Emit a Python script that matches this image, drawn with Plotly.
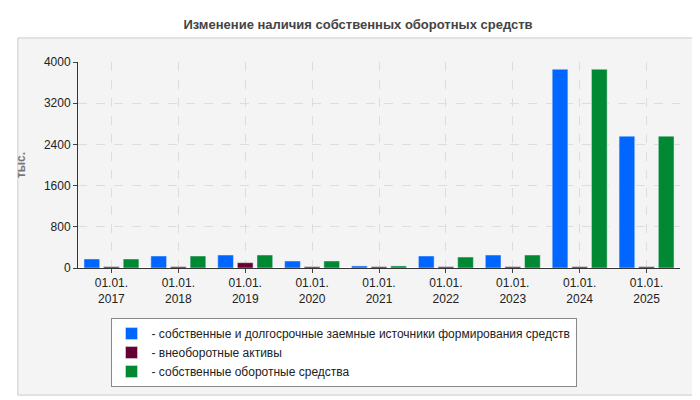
import plotly.graph_objects as go

# Years and values (тыс.)
categories = ["01.01.<br>2017", "01.01.<br>2018", "01.01.<br>2019", "01.01.<br>2020", "01.01.<br>2021",
              "01.01.<br>2022", "01.01.<br>2023", "01.01.<br>2024", "01.01.<br>2025"]
own_long_term = [175, 233, 252, 136, 40, 233, 252, 3860, 2560]
non_current = [25, 25, 103, 25, 25, 25, 25, 25, 25]
own_working = [175, 233, 252, 136, 40, 213, 252, 3860, 2560]

names = ["- собственные и долгосрочные заемные источники формирования средств",
         "- внеоборотные активы",
         "- собственные оборотные средства"]
colors = ["#0066ff", "#660033", "#008833"]

fig = go.Figure()
for name, vals, col in zip(names, [own_long_term, non_current, own_working], colors):
    fig.add_trace(go.Bar(x=categories, y=vals, name=name, marker_color=col))

fig.update_layout(
    width=700, height=400,
    paper_bgcolor="white", plot_bgcolor="#fdfdf8",
    font=dict(family="Liberation Sans, Arial", size=12, color="#222"),
    title=dict(text="<b>Изменение наличия собственных оборотных средств</b>", x=0.5, y=0.97,
               font=dict(size=13, color="#444")),
    margin=dict(l=59, r=28, t=54, b=140),
    barmode="group", bargap=0.12, bargroupgap=0.2,
    legend=dict(x=0.054, y=-0.243, xanchor="left", yanchor="top", bgcolor="white",
                bordercolor="#888", borderwidth=1, font=dict(size=12), itemwidth=30),
    yaxis=dict(range=[0, 4000], tickvals=[0, 800, 1600, 2400, 3200, 4000],
               gridcolor="#dddddd", griddash="dash", showline=True, linecolor="#333",
               ticks="outside", ticklen=4,
               title=dict(text="<b>тыс.</b>", font=dict(color="#777", size=12))),
    xaxis=dict(showgrid=True, gridcolor="#dddddd", griddash="dash", showline=True,
               linecolor="#333", ticks="outside", ticklen=4),
    shapes=[dict(type="rect", xref="paper", yref="paper", x0=-0.10, x1=1.024, y0=-0.617, y1=1.117,
                 line=dict(color="#cccccc", width=1), fillcolor="#f4f4f4", layer="below")],
)

fig.write_html("out.html")
